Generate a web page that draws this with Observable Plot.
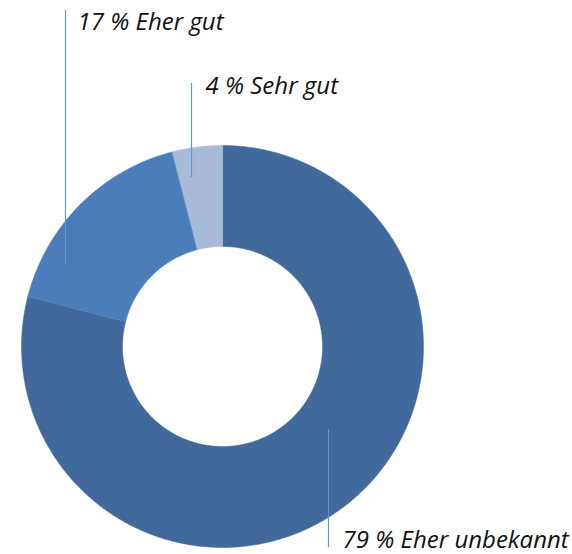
<!DOCTYPE html>
<html><head><meta charset="utf-8">
<script src="https://cdn.jsdelivr.net/npm/d3@7"></script>
<script src="https://cdn.jsdelivr.net/npm/@observablehq/plot@0.6"></script>
<style>body{margin:0;background:#fff}</style>
</head><body><div id="chart"></div>
<script>
// Data
const categories = ["Eher unbekannt", "Eher gut", "Sehr gut"];
const values = [79, 17, 4];
const colors = ["#41699c", "#4a7dba", "#a9bad8"];
const labelTexts = ["79 % Eher unbekannt", "17 % Eher gut", "4 % Sehr gut"];

// Layout (pixel offsets from donut centre)
const W = 572, H = 554, cx = 222, cy = 346, R = 201, R0 = 100;
const leaderX  = [106, -157, -31];
const leaderY1 = [83, -336, -263];
const leaderY2 = [201, -81, -169];
const textX = [120, -145, -17];
const textY = [201, -317, -253];

const arcs = d3.pie().sort(null).value(d => d)(values);
const pts = [];
arcs.forEach((s, i) => {
  const n = Math.max(8, Math.ceil((s.endAngle - s.startAngle) * 180 / Math.PI) * 2);
  for (let k = 0; k <= n; k++) {
    const a = s.startAngle + (s.endAngle - s.startAngle) * k / n;
    pts.push({cat: categories[i], x: R * Math.sin(a), y: -R * Math.cos(a)});
  }
  for (let k = n; k >= 0; k--) {
    const a = s.startAngle + (s.endAngle - s.startAngle) * k / n;
    pts.push({cat: categories[i], x: R0 * Math.sin(a), y: -R0 * Math.cos(a)});
  }
});
const leaders = categories.map((c, i) => ({
  cat: c, x: leaderX[i], y1: leaderY1[i], y2: leaderY2[i],
  tx: textX[i], ty: textY[i], text: labelTexts[i]
}));

const chart = Plot.plot({
  width: W, height: H, margin: 0,
  x: {domain: [-cx, W - cx], range: [0, W], axis: null},
  y: {domain: [-cy, H - cy], range: [0, H], axis: null},
  color: {domain: categories, range: colors},
  marks: [
    Plot.line(pts, {x: "x", y: "y", z: "cat", fill: "cat", stroke: "cat", strokeWidth: 0.5, curve: "linear-closed"}),
    Plot.ruleX(leaders, {x: "x", y1: "y1", y2: "y2", stroke: "#5b9bd5", strokeWidth: 1.2}),
    Plot.text(leaders, {x: "tx", y: "ty", text: "text", textAnchor: "start", lineAnchor: "bottom",
      fontSize: 24, fontStyle: "italic", fontFamily: "Open Sans", fill: "#111"})
  ]
});
document.getElementById("chart").appendChild(chart);
</script>
</body></html>
